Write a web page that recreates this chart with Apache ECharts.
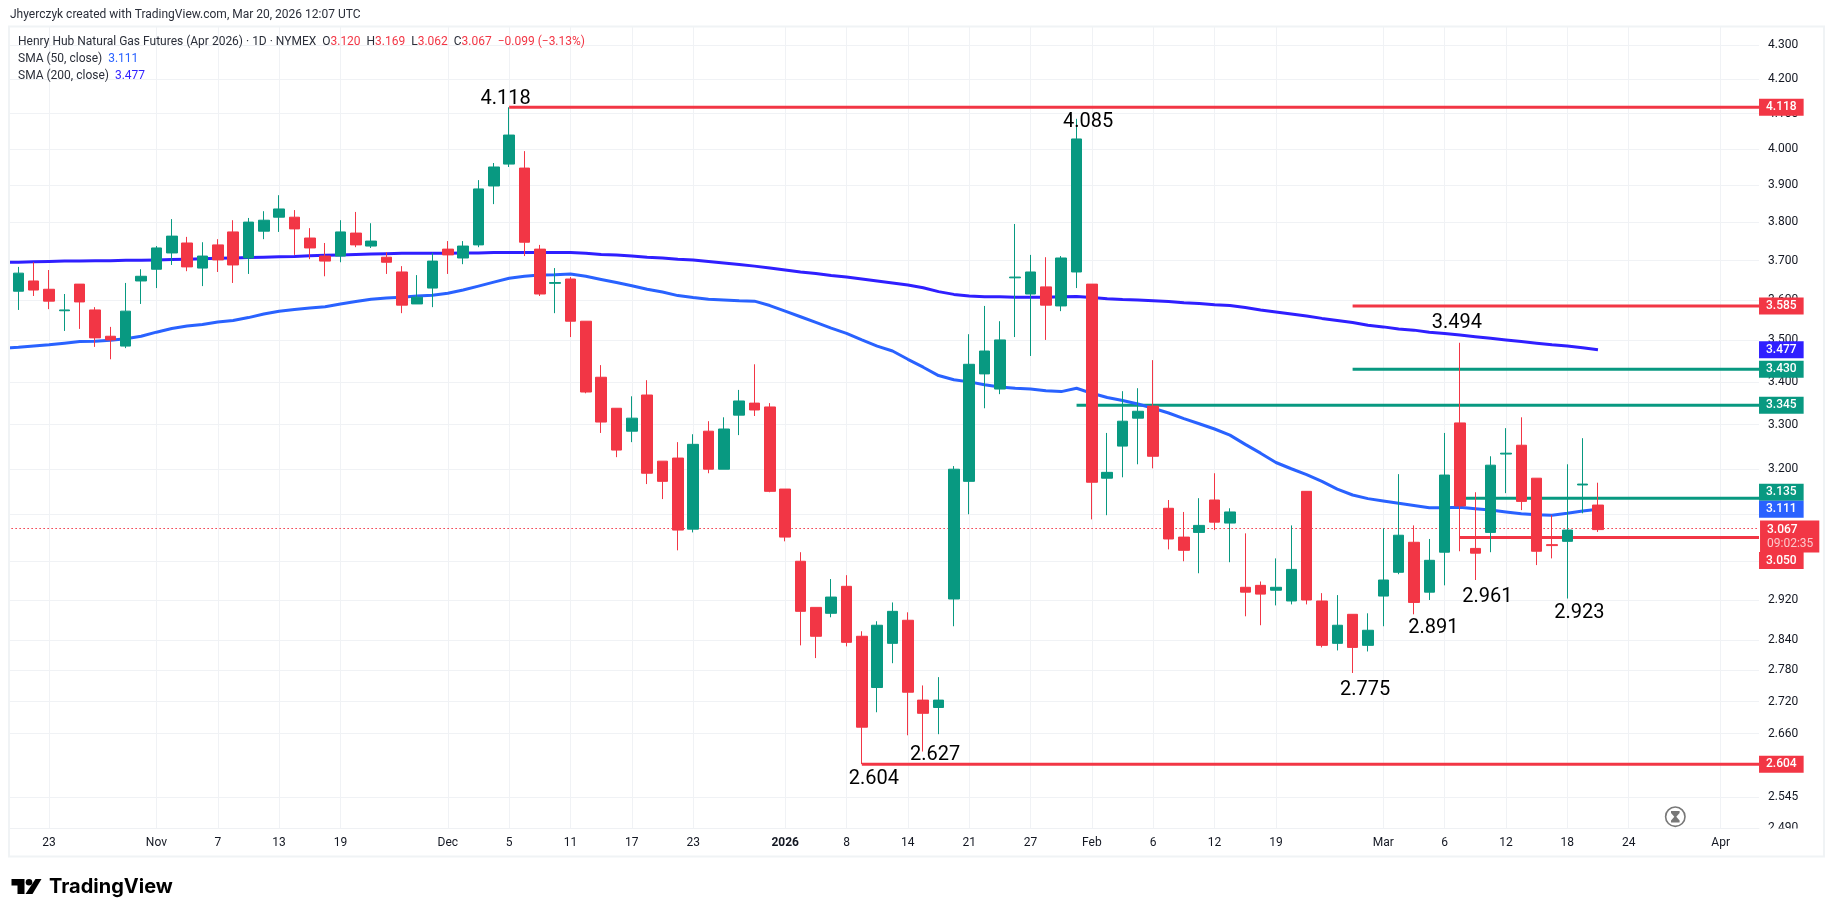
<!DOCTYPE html>
<html><head><meta charset="utf-8">
<style>html,body{margin:0;padding:0;background:#fff}#c{width:1835px;height:917px}</style>
<script src="https://cdn.jsdelivr.net/npm/echarts@6/dist/echarts.min.js"></script>
</head><body><div id="c"></div>
<script>
const categories = ['2025-10-20','2025-10-21','2025-10-22','2025-10-23','2025-10-24','2025-10-27','2025-10-28','2025-10-29','2025-10-30','2025-10-31',
'2025-11-03','2025-11-04','2025-11-05','2025-11-06','2025-11-07','2025-11-10','2025-11-11','2025-11-12','2025-11-13','2025-11-14','2025-11-17','2025-11-18','2025-11-19','2025-11-20','2025-11-21','2025-11-24','2025-11-25','2025-11-26','2025-11-28',
'2025-12-01','2025-12-02','2025-12-03','2025-12-04','2025-12-05','2025-12-08','2025-12-09','2025-12-10','2025-12-11','2025-12-12','2025-12-15','2025-12-16','2025-12-17','2025-12-18','2025-12-19','2025-12-22','2025-12-23','2025-12-24','2025-12-26','2025-12-29','2025-12-30','2025-12-31',
'2026-01-02','2026-01-05','2026-01-06','2026-01-07','2026-01-08','2026-01-09','2026-01-12','2026-01-13','2026-01-14','2026-01-15','2026-01-16','2026-01-20','2026-01-21','2026-01-22','2026-01-23','2026-01-26','2026-01-27','2026-01-28','2026-01-29','2026-01-30',
'2026-02-02','2026-02-03','2026-02-04','2026-02-05','2026-02-06','2026-02-09','2026-02-10','2026-02-11','2026-02-12','2026-02-13','2026-02-17','2026-02-18','2026-02-19','2026-02-20','2026-02-23','2026-02-24','2026-02-25','2026-02-26','2026-02-27',
'2026-03-02','2026-03-03','2026-03-04','2026-03-05','2026-03-06','2026-03-09','2026-03-10','2026-03-11','2026-03-12','2026-03-13','2026-03-16','2026-03-17','2026-03-18','2026-03-19','2026-03-20','2026-03-23','2026-03-24','2026-03-25','2026-03-26','2026-03-27','2026-03-30','2026-03-31','2026-04-01','2026-04-02','2026-04-03'];

const xTickLabels = {'2025-10-23':'23','2025-11-03':'Nov','2025-11-07':'7','2025-11-13':'13','2025-11-19':'19','2025-12-01':'Dec','2025-12-05':'5','2025-12-11':'11','2025-12-17':'17','2025-12-23':'23','2026-01-02':'2026','2026-01-08':'8','2026-01-14':'14','2026-01-21':'21','2026-01-27':'27','2026-02-02':'Feb','2026-02-06':'6','2026-02-12':'12','2026-02-19':'19','2026-03-02':'Mar','2026-03-06':'6','2026-03-12':'12','2026-03-18':'18','2026-03-24':'24','2026-04-01':'Apr'};

const yTickValues = [2.49,2.545,2.66,2.72,2.78,2.84,2.92,3.0,3.1,3.2,3.3,3.4,3.5,3.6,3.7,3.8,3.9,4.0,4.1,4.2,4.3];

const opens = [null,3.622,3.648,3.627,3.573,3.640,3.575,3.510,3.486,3.648,3.678,3.720,3.746,3.681,3.741,3.775,3.707,3.777,3.814,3.814,3.759,3.712,3.712,3.772,3.738,3.709,3.671,3.590,3.630,3.730,3.707,3.741,3.898,3.958,3.947,3.730,3.642,3.653,3.547,3.411,3.338,3.285,3.369,3.217,3.224,3.068,3.285,3.199,3.322,3.350,3.341,3.155,3.000,2.905,2.893,2.948,2.847,2.747,2.833,2.879,2.723,2.709,2.922,3.172,3.419,3.383,3.656,3.615,3.633,3.585,3.671,3.640,3.179,3.251,3.315,3.343,3.113,3.051,3.061,3.131,3.081,2.946,2.950,2.940,2.918,3.150,2.918,2.833,2.891,2.829,2.928,2.977,3.040,2.936,3.019,3.304,3.027,3.061,3.233,3.253,3.179,3.035,3.042,3.164,3.120];
const closes = [null,3.668,3.625,3.597,3.575,3.595,3.506,3.501,3.572,3.660,3.733,3.764,3.684,3.712,3.702,3.689,3.801,3.806,3.836,3.783,3.733,3.699,3.775,3.741,3.751,3.696,3.587,3.607,3.699,3.715,3.738,3.890,3.950,4.039,3.748,3.615,3.644,3.547,3.376,3.306,3.242,3.315,3.190,3.172,3.066,3.255,3.199,3.290,3.355,3.334,3.150,3.051,2.897,2.847,2.926,2.835,2.672,2.869,2.897,2.738,2.698,2.723,3.199,3.442,3.474,3.501,3.658,3.671,3.587,3.707,4.028,3.170,3.192,3.308,3.331,3.228,3.047,3.023,3.076,3.083,3.105,2.936,2.932,2.946,2.983,2.920,2.829,2.869,2.825,2.859,2.961,3.055,2.915,3.002,3.186,3.118,3.017,3.208,3.235,3.128,3.021,3.033,3.066,3.166,3.067];
const lows = [null,3.575,3.610,3.577,3.523,3.528,3.484,3.454,3.481,3.590,3.630,3.689,3.673,3.635,3.671,3.643,3.666,3.756,3.775,3.715,3.704,3.660,3.696,3.735,3.733,3.666,3.567,3.590,3.582,3.666,3.691,3.735,3.849,3.950,3.712,3.610,3.567,3.508,3.373,3.281,3.226,3.260,3.166,3.133,3.023,3.061,3.190,3.199,3.276,3.320,3.148,3.042,2.829,2.804,2.885,2.827,2.604,2.700,2.794,2.657,2.627,2.659,2.867,3.100,3.338,3.371,3.508,3.462,3.501,3.572,3.630,3.089,3.098,3.181,3.210,3.201,3.025,3.000,2.975,3.066,2.998,2.887,2.869,2.909,2.911,2.911,2.825,2.819,2.775,2.817,2.867,2.973,2.891,2.920,2.950,3.021,2.961,3.019,3.146,3.109,2.992,3.006,2.923,3.102,3.062];
const highs = [null,3.684,3.696,3.676,3.615,3.640,3.582,3.533,3.643,3.678,3.738,3.809,3.762,3.748,3.756,3.806,3.812,3.830,3.873,3.833,3.785,3.746,3.806,3.828,3.798,3.722,3.686,3.663,3.720,3.751,3.751,3.914,3.961,4.118,3.994,3.741,3.681,3.658,3.547,3.440,3.338,3.366,3.404,3.217,3.260,3.278,3.308,3.317,3.381,3.442,3.350,3.155,3.019,2.905,2.963,2.971,2.857,2.877,2.915,2.895,2.751,2.767,3.206,3.515,3.585,3.547,3.796,3.715,3.709,3.712,4.085,3.640,3.281,3.378,3.385,3.452,3.131,3.105,3.135,3.190,3.113,3.059,2.958,3.006,3.076,3.150,2.934,2.930,2.891,2.893,3.070,3.188,3.076,3.047,3.281,3.494,3.148,3.228,3.292,3.317,3.179,3.098,3.210,3.269,3.169];

const sma50 = [3.481,3.483,3.486,3.489,3.493,3.497,3.498,3.500,3.504,3.510,3.520,3.529,3.535,3.539,3.545,3.549,3.556,3.565,3.572,3.576,3.580,3.583,3.590,3.596,3.602,3.605,3.607,3.610,3.612,3.617,3.625,3.635,3.645,3.655,3.660,3.663,3.664,3.666,3.660,3.652,3.644,3.636,3.627,3.620,3.611,3.606,3.602,3.600,3.598,3.597,3.586,3.572,3.558,3.544,3.530,3.517,3.501,3.486,3.474,3.454,3.435,3.415,3.405,3.400,3.393,3.388,3.385,3.383,3.379,3.377,3.385,3.373,3.363,3.356,3.348,3.338,3.327,3.314,3.302,3.290,3.276,3.255,3.235,3.214,3.200,3.187,3.172,3.155,3.142,3.134,3.129,3.124,3.119,3.114,3.114,3.115,3.112,3.109,3.105,3.101,3.099,3.098,3.102,3.107,3.111];
const sma200 = [3.696,3.696,3.697,3.698,3.699,3.699,3.700,3.700,3.701,3.701,3.702,3.703,3.704,3.705,3.706,3.707,3.708,3.709,3.710,3.711,3.713,3.714,3.715,3.716,3.717,3.718,3.719,3.719,3.719,3.719,3.720,3.720,3.721,3.721,3.721,3.721,3.721,3.721,3.719,3.716,3.715,3.712,3.709,3.707,3.704,3.702,3.698,3.694,3.690,3.686,3.681,3.676,3.671,3.667,3.662,3.658,3.653,3.648,3.643,3.638,3.631,3.621,3.614,3.610,3.608,3.608,3.607,3.607,3.607,3.608,3.609,3.606,3.603,3.601,3.600,3.598,3.596,3.593,3.591,3.588,3.586,3.581,3.575,3.570,3.565,3.560,3.554,3.549,3.544,3.537,3.533,3.528,3.525,3.520,3.517,3.513,3.509,3.505,3.501,3.497,3.493,3.489,3.486,3.482,3.477];

const UP = '#089981', DOWN = '#f23645', BLUE50 = '#2962ff', BLUE200 = '#2f1fff';
const FONT = 'Roboto';

const levelValues = [4.118, 3.585, 3.430, 3.345, 3.135, 3.050, 2.604];
const levelStarts = ['2025-12-05','2026-02-26','2026-02-26','2026-01-30','2026-03-09','2026-03-09','2026-01-09'];
const levelColors = [DOWN, DOWN, UP, UP, UP, DOWN, DOWN];

const pivotValues = [4.118, 4.085, 3.494, 2.961, 2.923, 2.891, 2.775, 2.627, 2.604];
const pivotDates = ['2025-12-05','2026-01-30','2026-03-09','2026-03-10','2026-03-18','2026-03-04','2026-02-26','2026-01-15','2026-01-09'];
const pivotOffsets = [[-3.5,-8],[11.5,3],[-3,-20],[12,17],[12,14.6],[19.5,14],[12.5,17],[12,3.5],[12,15]];

const badgeValues = [4.118, 3.585, 3.477, 3.430, 3.345, 3.135, 3.111, 3.050, 2.604];
const badgeColors = [DOWN, DOWN, BLUE200, UP, UP, UP, BLUE50, DOWN, DOWN];
const badgeShift = [0, 0, 0, 0, 0, -6, 0, 23, 0];
const lastPrice = 3.067, countdown = '09:02:35';

const lastCat = categories.length - 1;
const ohlc = opens.map((o, i) => o == null ? ['-','-','-','-'] : [o, closes[i], lows[i], highs[i]]);

const option = {
  animation: false,
  backgroundColor: '#fff',
  textStyle: { fontFamily: FONT },
  grid: { left: -4.605, width: 1763.605, top: 27, height: 801.3, containLabel: false, outerBoundsMode: 'none' },
  xAxis: {
    type: 'category', data: categories, boundaryGap: true,
    axisLine: { show: true, lineStyle: { color: '#eff1f4', width: 1 } },
    axisTick: { show: false },
    axisLabel: {
      interval: (i, v) => xTickLabels[v] != null,
      formatter: v => v === '2026-01-02' ? '{b|2026}' : (xTickLabels[v] || ''),
      rich: { b: { fontWeight: 'bold', fontSize: 12, color: '#131722', fontFamily: FONT } },
      color: '#131722', fontSize: 12, margin: 9, fontFamily: FONT, hideOverlap: false
    },
    splitLine: { show: true, alignWithLabel: true, interval: (i, v) => xTickLabels[v] != null, lineStyle: { color: '#f0f2f5', width: 1 } }
  },
  yAxis: {
    type: 'log', logBase: 10, position: 'right', min: 2.49, max: 4.3553,
    axisLine: { show: false },
    axisTick: { show: false, customValues: yTickValues },
    axisLabel: { customValues: yTickValues, formatter: v => (+v).toFixed(3), color: '#131722', fontSize: 12, margin: 9, padding: [4, 0, 0, 0], fontFamily: FONT, showMinLabel: true, showMaxLabel: true, hideOverlap: false },
    splitLine: { show: true, lineStyle: { color: '#f0f2f5', width: 1 } }
  },
  series: [
    { name: 'Levels', type: 'custom', z: 1, silent: true, clip: false, encode: { x: 0, y: 1 },
      data: levelValues.map((v, i) => [categories.indexOf(levelStarts[i]), v, levelColors[i]]),
      renderItem: (params, api) => {
        const p = api.coord([api.value(0), api.value(1)]);
        const right = params.coordSys.x + params.coordSys.width;
        return { type: 'line', shape: { x1: p[0], y1: p[1], x2: right, y2: p[1] },
          style: { stroke: levelColors[params.dataIndex], lineWidth: 3, fill: 'none' } };
      }
    },
    { name: 'SMA (200, close)', type: 'line', data: sma200, showSymbol: false, symbol: 'none', z: 2, silent: true, lineStyle: { color: BLUE200, width: 3 },
      markLine: { silent: true, z: 1, symbol: ['none','none'], animation: false, label: { show: false },
        data: [{ yAxis: lastPrice, lineStyle: { color: DOWN, width: 1, type: [1.5, 2.5] } }]
      }
    },
    { name: 'SMA (50, close)', type: 'line', data: sma50, showSymbol: false, symbol: 'none', z: 2, silent: true, lineStyle: { color: BLUE50, width: 3 } },
    { name: 'Henry Hub Natural Gas Futures', type: 'candlestick', data: ohlc, z: 3, barWidth: 11, silent: true,
      itemStyle: { color: UP, color0: DOWN, borderColor: UP, borderColor0: DOWN, borderWidth: 1 },
      markPoint: { silent: true, z: 20, animation: false, symbol: 'rect', symbolSize: 1, itemStyle: { color: 'rgba(0,0,0,0)' },
        data: pivotValues.map((v, i) => ({
          coord: [categories.indexOf(pivotDates[i]), v],
          label: { show: true, position: 'inside', offset: pivotOffsets[i], formatter: v.toFixed(3), color: '#000', fontSize: 20, fontFamily: FONT }
        })).concat(badgeValues.map((v, i) => ({
          coord: [lastCat, v],
          label: { show: true, position: 'inside', offset: [30, badgeShift[i]], formatter: v.toFixed(3), color: '#fff', fontSize: 12, fontWeight: 500, fontFamily: FONT, backgroundColor: badgeColors[i], padding: [2.5, 7, 2.5, 7], lineHeight: 12 }
        }))).concat([{
          coord: [lastCat, lastPrice],
          label: { show: true, position: 'inside', align: 'left', offset: [8.7, 7], formatter: '{a|' + lastPrice.toFixed(3) + '}\n{b|' + countdown + '}', backgroundColor: DOWN, padding: [2, 6, 2, 7],
            rich: { a: { color: '#fff', fontSize: 12, fontWeight: 500, lineHeight: 14, fontFamily: FONT }, b: { color: 'rgba(255,255,255,0.72)', fontSize: 12, lineHeight: 14, fontFamily: FONT } } }
        }])
      }
    }
  ],
  graphic: [
    { type: 'rect', z: 50, silent: true, shape: { x: 0, y: 27, width: 9, height: 802 }, style: { fill: '#fff' } },
    { type: 'rect', z: 50, silent: true, shape: { x: 1760, y: 828.5, width: 62, height: 27 }, style: { fill: '#fff' } },
    { type: 'rect', z: 51, silent: true, shape: { x: 9, y: 26.5, width: 1815, height: 830 }, style: { fill: 'none', stroke: '#f0f3f5', lineWidth: 2 } },
    { type: 'text', z: 60, silent: true, x: 10, y: 15, style: { text: 'Jhyerczyk created with TradingView.com, Mar 20, 2026 12:07 UTC', fill: '#2a2e39', font: '12px ' + FONT, verticalAlign: 'middle' } },
    { type: 'text', z: 60, silent: true, x: 18, y: 42, style: {
      text: 'Henry Hub Natural Gas Futures (Apr 2026) · 1D · NYMEX  O{r|3.120}  H{r|3.169}  L{r|3.062}  C{r|3.067}  {r|−0.099 (−3.13%)}',
      fill: '#2a2e39', font: '12px ' + FONT, verticalAlign: 'middle',
      rich: { r: { fill: DOWN, font: '12px ' + FONT } } } },
    { type: 'text', z: 60, silent: true, x: 18, y: 59, style: { text: 'SMA (50, close)  {v|3.111}', fill: '#2a2e39', font: '12px ' + FONT, verticalAlign: 'middle', rich: { v: { fill: BLUE50, font: '12px ' + FONT } } } },
    { type: 'text', z: 60, silent: true, x: 18, y: 76, style: { text: 'SMA (200, close)  {v|3.477}', fill: '#2a2e39', font: '12px ' + FONT, verticalAlign: 'middle', rich: { v: { fill: BLUE200, font: '12px ' + FONT } } } },
    { type: 'polygon', z: 60, silent: true, shape: { points: [[11.5,879],[24.5,879],[24.5,894],[17.5,894],[17.5,885.5],[11.5,885.5]] }, style: { fill: '#000' } },
    { type: 'circle', z: 60, silent: true, shape: { cx: 29, cy: 882.3, r: 3.3 }, style: { fill: '#000' } },
    { type: 'polygon', z: 60, silent: true, shape: { points: [[35.5,879],[41.5,879],[32.5,894],[25.5,894]] }, style: { fill: '#000' } },
    { type: 'text', z: 60, silent: true, x: 49, y: 887, style: { text: 'TradingView', fill: '#000', font: '700 20px Inter', verticalAlign: 'middle' } },
    { type: 'circle', z: 60, silent: true, shape: { cx: 1675.3, cy: 816.7, r: 9.7 }, style: { fill: '#fff', stroke: '#787878', lineWidth: 1.6 } },
    { type: 'polygon', z: 61, silent: true, shape: { points: [[1671,811],[1679.6,811],[1679.6,813],[1676.3,816.7],[1679.6,820.5],[1679.6,822.4],[1671,822.4],[1671,820.5],[1674.3,816.7],[1671,813]] }, style: { fill: '#787878' } }
  ]
};
const chart = echarts.init(document.getElementById('c'), null, { renderer: 'canvas', width: 1835, height: 917 });
chart.setOption(option);
</script></body></html>
